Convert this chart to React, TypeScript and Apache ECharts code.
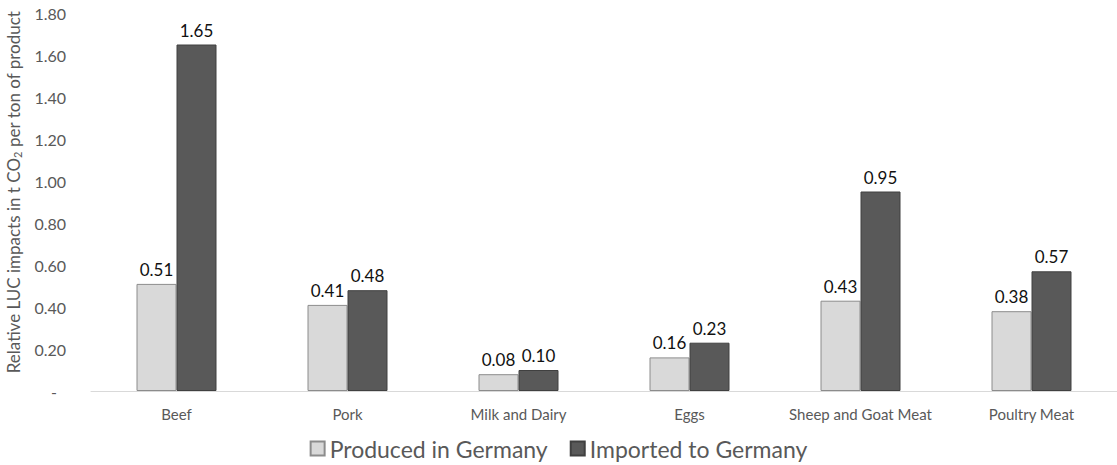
import React, { useEffect, useRef } from "react";
import * as echarts from "echarts";

const categories = ["Beef", "Pork", "Milk and Dairy", "Eggs", "Sheep and Goat Meat", "Poultry Meat"];
const producedInGermany = [0.51, 0.41, 0.08, 0.16, 0.43, 0.38];
const importedToGermany = [1.65, 0.48, 0.1, 0.23, 0.95, 0.57];
const seriesNames = ["Produced in Germany", "Imported to Germany"];

const FONT = "Lato, 'Open Sans', sans-serif";

export default function App() {
  const ref = useRef<HTMLDivElement>(null);

  useEffect(() => {
    if (!ref.current) return;
    const chart = echarts.init(ref.current, null, { renderer: "svg" });
    const label = {
      show: true,
      position: "top",
      distance: 6,
      color: "#111",
      fontSize: 17,
      fontFamily: FONT,
      formatter: (p: any) => Number(p.value).toFixed(2),
    };
    chart.setOption({
      animation: false,
      textStyle: { fontFamily: FONT },
      grid: { left: 91, right: 0, top: 13, bottom: 74, outerBoundsMode: "none", containLabel: false },
      graphic: [
        {
          type: "text",
          x: 13,
          y: 192,
          rotation: Math.PI / 2,
          style: {
            text: "Relative LUC impacts in t CO{sub|2} per ton of product",
            fill: "#595959",
            fontSize: 17,
            fontFamily: FONT,
            align: "center",
            verticalAlign: "middle",
            rich: {
              sub: { fontSize: 11, fill: "#595959", fontFamily: FONT, padding: [8, 0, 0, 0] },
            },
          },
        },
      ],
      legend: {
        bottom: 5,
        left: "center",
        itemWidth: 14,
        itemHeight: 14,
        itemGap: 22,
        icon: "rect",
        padding: 0,
        textStyle: { color: "#595959", fontSize: 23, fontFamily: FONT },
        data: seriesNames,
      },
      xAxis: {
        type: "category",
        data: categories,
        axisLine: { lineStyle: { color: "#d9d9d9" } },
        axisTick: { show: false },
        axisLabel: { color: "#595959", fontSize: 15, fontFamily: FONT, margin: 15, interval: 0 },
      },
      yAxis: {
        type: "value",
        min: 0,
        max: 1.8,
        interval: 0.2,
        splitLine: { show: false },
        axisLine: { show: false },
        axisTick: { show: false },
        axisLabel: {
          color: "#595959",
          fontSize: 16,
          fontFamily: FONT,
          margin: 25,
          formatter: (v: number) => (v === 0 ? "{d|-}" : v.toFixed(2)),
          rich: { d: { padding: [0, 9, 0, 0], color: "#595959", fontSize: 16 } },
        },
      },
      series: [
        {
          name: seriesNames[0],
          type: "bar",
          data: producedInGermany,
          barWidth: 40,
          barGap: "0%",
          itemStyle: { color: "#d9d9d9", borderColor: "#8c8c8c", borderWidth: 1 },
          label,
        },
        {
          name: seriesNames[1],
          type: "bar",
          data: importedToGermany,
          barWidth: 40,
          itemStyle: { color: "#595959", borderColor: "#404040", borderWidth: 1 },
          label,
        },
      ],
    });
    return () => chart.dispose();
  }, []);

  return (
    <div
      ref={ref}
      style={{ position: "absolute", left: 0, top: 0, width: 1117, height: 465, background: "#fff" }}
    />
  );
}
